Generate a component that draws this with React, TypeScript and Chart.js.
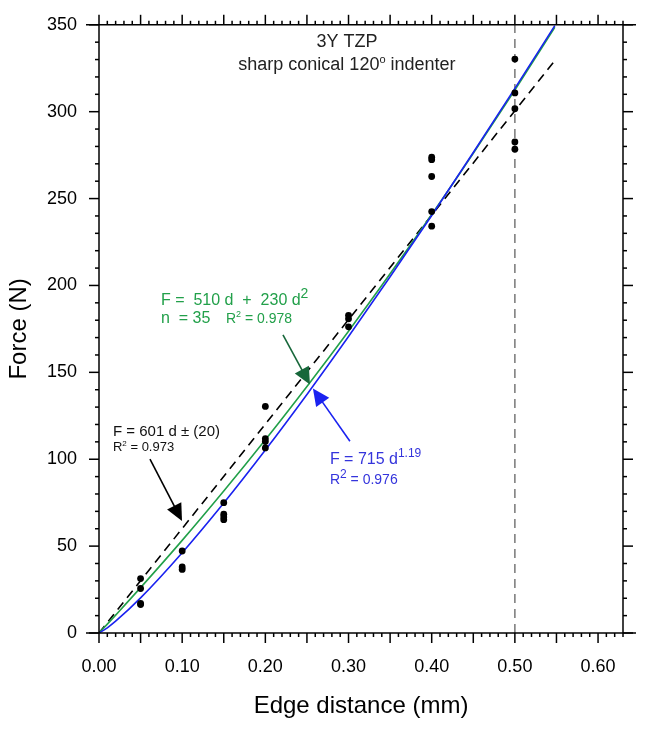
import React, { useEffect, useRef } from "react";
import { Chart, registerables } from "chart.js";

Chart.register(...registerables);

// Measured indentation data (edge distance in mm, force in N)
const edgeDistance = [
  0.05, 0.05, 0.05, 0.05,
  0.10, 0.10, 0.10,
  0.15, 0.15, 0.15, 0.15,
  0.20, 0.20, 0.20, 0.20,
  0.30, 0.30, 0.30,
  0.40, 0.40, 0.40, 0.40, 0.40,
  0.50, 0.50, 0.50, 0.50, 0.50,
];
const force = [
  31.3, 25.6, 17.0, 16.4,
  47.2, 38.0, 36.6,
  75.0, 68.4, 66.8, 65.2,
  130.4, 111.9, 110.2, 106.5,
  182.8, 180.8, 176.2,
  273.8, 272.4, 262.7, 242.5, 234.1,
  330.3, 310.8, 301.7, 282.6, 278.4,
];

// Fit curves
const fitDistance = [0, 0.01, 0.02, 0.05, 0.10, 0.15, 0.20, 0.25, 0.30, 0.35, 0.40, 0.45, 0.50, 0.548];
const quadraticFit = [0, 5.1, 10.3, 26.1, 53.3, 81.7, 111.2, 141.9, 173.7, 206.7, 240.8, 276.1, 312.5, 348.6];
const powerFit = [0, 3.0, 6.8, 20.2, 46.2, 74.8, 105.3, 137.3, 170.6, 205.0, 240.3, 276.5, 313.4, 349.5];
const linearDistance = [0, 0.55];
const linearFit = [0, 330.6];

// Reference line (max edge distance)
const refDistance = [0.5, 0.5];
const refForce = [0, 350];

// Axis ticks
const xMin = 0;
const xMax = 0.63;
const xStep = 0.1;
const yMin = 0;
const yMax = 350;
const yStep = 50;

const FONT = "'Liberation Sans', Arial, Helvetica, sans-serif";
const GREEN = "#22a04a";
const GREEN_DARK = "#17673a";
const BLUE = "#1a22f0";
const BLUE_TEXT = "#3434dc";

type Seg = { t: string; size: number; dy?: number };

function drawSegs(ctx: CanvasRenderingContext2D, segs: Seg[], x: number, y: number, color: string, align: "left" | "center" = "left") {
  ctx.save();
  ctx.fillStyle = color;
  ctx.textBaseline = "alphabetic";
  ctx.textAlign = "left";
  let total = 0;
  for (const s of segs) {
    ctx.font = `${s.size}px ${FONT}`;
    total += ctx.measureText(s.t).width;
  }
  let cx = align === "center" ? x - total / 2 : x;
  for (const s of segs) {
    ctx.font = `${s.size}px ${FONT}`;
    ctx.fillText(s.t, cx, y - (s.dy || 0));
    cx += ctx.measureText(s.t).width;
  }
  ctx.restore();
}

function drawArrow(ctx: CanvasRenderingContext2D, x1: number, y1: number, x2: number, y2: number, lineColor: string, headColor: string) {
  const ang = Math.atan2(y2 - y1, x2 - x1);
  const hl = 17;
  const hw = 8;
  ctx.save();
  ctx.strokeStyle = lineColor;
  ctx.lineWidth = 1.6;
  ctx.beginPath();
  ctx.moveTo(x1, y1);
  ctx.lineTo(x2 - Math.cos(ang) * hl * 0.8, y2 - Math.sin(ang) * hl * 0.8);
  ctx.stroke();
  ctx.fillStyle = headColor;
  ctx.beginPath();
  ctx.moveTo(x2, y2);
  const bx = x2 - Math.cos(ang) * hl;
  const by = y2 - Math.sin(ang) * hl;
  ctx.lineTo(bx + Math.sin(ang) * hw, by - Math.cos(ang) * hw);
  ctx.lineTo(bx - Math.sin(ang) * hw, by + Math.cos(ang) * hw);
  ctx.closePath();
  ctx.fill();
  ctx.restore();
}

const framePlugin = {
  id: "frame",
  afterDraw(chart: any) {
    const { ctx, chartArea, scales } = chart;
    const { left, right, top, bottom } = chartArea;
    const xs = scales.x;
    const ys = scales.y;
    ctx.save();
    ctx.strokeStyle = "#000";
    ctx.lineWidth = 1.5;
    const ln = (a: number, b: number, c: number, d: number) => {
      ctx.beginPath();
      ctx.moveTo(a, b);
      ctx.lineTo(c, d);
      ctx.stroke();
    };
    const ext = 13;
    ln(left - ext, top, right + ext, top);
    ln(left - ext, bottom, right + ext, bottom);
    ln(left, top, left, bottom);
    ln(right, top, right, bottom);
    const nx = Math.round((xMax - xMin) * 100);
    for (let i = 0; i <= nx; i++) {
      const px = xs.getPixelForValue(xMin + i / 100);
      const len = i % 5 === 0 ? 10 : 4;
      ln(px, bottom, px, bottom + len);
      ln(px, top, px, top - len);
    }
    for (let v = yMin; v <= yMax; v += 10) {
      const py = ys.getPixelForValue(v);
      const len = v % 50 === 0 ? 10 : 4;
      ln(left, py, left - len, py);
      ln(right, py, right + len, py);
    }
    ctx.restore();
  },
};

const notesPlugin = {
  id: "notes",
  afterDatasetsDraw(chart: any) {
    const { ctx, scales } = chart;
    const X = (v: number) => scales.x.getPixelForValue(v);
    const Y = (v: number) => scales.y.getPixelForValue(v);

    // Title inside plot
    drawSegs(ctx, [{ t: "3Y TZP", size: 18 }], X(0.2981), Y(337), "#222", "center");
    drawSegs(
      ctx,
      [
        { t: "sharp conical 120", size: 18 },
        { t: "o", size: 11, dy: 7 },
        { t: " indenter", size: 18 },
      ],
      X(0.2981),
      Y(324),
      "#222",
      "center"
    );

    // Quadratic fit (green)
    drawSegs(
      ctx,
      [
        { t: "F =  510 d  +  230 d", size: 16 },
        { t: "2", size: 14, dy: 7 },
      ],
      X(0.0745),
      Y(188.5),
      GREEN
    );
    drawSegs(ctx, [{ t: "n  = 35", size: 16 }], X(0.0745), Y(178.5), GREEN);
    drawSegs(
      ctx,
      [
        { t: "R", size: 14 },
        { t: "2", size: 9, dy: 6 },
        { t: " = 0.978", size: 14 },
      ],
      X(0.1526),
      Y(178.5),
      GREEN
    );
    drawArrow(ctx, X(0.2212), Y(171.6), X(0.2536), Y(143.0), GREEN_DARK, GREEN_DARK);

    // Power fit (blue)
    drawSegs(
      ctx,
      [
        { t: "F = 715 d", size: 16 },
        { t: "1.19", size: 12, dy: 7 },
      ],
      X(0.2776),
      Y(97.5),
      BLUE_TEXT
    );
    drawSegs(
      ctx,
      [
        { t: "R", size: 14 },
        { t: "2", size: 12, dy: 6 },
        { t: " = 0.976", size: 14 },
      ],
      X(0.2776),
      Y(85.5),
      BLUE_TEXT
    );
    drawArrow(ctx, X(0.3017), Y(110.3), X(0.2572), Y(140.7), BLUE, BLUE);

    // Linear fit (black)
    drawSegs(ctx, [{ t: "F = 601 d \u00b1 (20)", size: 15 }], X(0.0168), Y(113.5), "#111");
    drawSegs(
      ctx,
      [
        { t: "R", size: 13 },
        { t: "2", size: 8, dy: 5 },
        { t: " = 0.973", size: 13 },
      ],
      X(0.0168),
      Y(104.5),
      "#111"
    );
    drawArrow(ctx, X(0.0613), Y(100.1), X(0.0998), Y(64.5), "#000", "#000");
  },
};

export default function App() {
  const ref = useRef<HTMLCanvasElement | null>(null);

  useEffect(() => {
    if (!ref.current) return;
    const pts = edgeDistance.map((d, i) => ({ x: d, y: force[i] }));
    const quad = fitDistance.map((d, i) => ({ x: d, y: quadraticFit[i] }));
    const pow = fitDistance.map((d, i) => ({ x: d, y: powerFit[i] }));
    const lin = linearDistance.map((d, i) => ({ x: d, y: linearFit[i] }));
    const refl = refDistance.map((d, i) => ({ x: d, y: refForce[i] }));

    const chart = new Chart(ref.current, {
      type: "scatter",
      data: {
        datasets: [
          {
            label: "data",
            data: pts,
            backgroundColor: "#000",
            borderColor: "#000",
            pointRadius: 3.4,
            pointHoverRadius: 3.4,
            borderWidth: 0,
          },
          {
            label: "power",
            data: pow,
            showLine: true,
            borderColor: BLUE,
            borderWidth: 1.6,
            pointRadius: 0,
            cubicInterpolationMode: "monotone",
          },
          {
            label: "quadratic",
            data: quad,
            showLine: true,
            borderColor: GREEN,
            borderWidth: 1.6,
            pointRadius: 0,
            cubicInterpolationMode: "monotone",
          },
          {
            label: "linear",
            data: lin,
            showLine: true,
            borderColor: "#000",
            borderWidth: 1.6,
            borderDash: [9, 6],
            pointRadius: 0,
          },
          {
            label: "ref",
            data: refl,
            showLine: true,
            borderColor: "#777",
            borderWidth: 1.5,
            borderDash: [9, 6],
            pointRadius: 0,
          },
        ],
      },
      options: {
        responsive: false,
        animation: false,
        events: [],
        layout: { padding: { top: 22, right: 22, left: 0, bottom: 0 } },
        plugins: {
          legend: { display: false },
          tooltip: { enabled: false },
        },
        scales: {
          x: {
            type: "linear",
            min: xMin,
            max: xMax,
            grid: { display: false },
            border: { display: false },
            ticks: {
              stepSize: xStep,
              includeBounds: false,
              padding: 15,
              color: "#000",
              font: { family: FONT, size: 18 },
              callback: (v: any) => Number(v).toFixed(2),
              maxRotation: 0,
            },
            title: {
              display: true,
              text: "Edge distance (mm)",
              color: "#000",
              font: { family: FONT, size: 24 },
              padding: { top: 0, bottom: 12 },
            },
            afterFit: (s: any) => {
              s.height = 100;
            },
          },
          y: {
            type: "linear",
            min: yMin,
            max: yMax,
            grid: { display: false },
            border: { display: false },
            ticks: {
              stepSize: yStep,
              padding: 14,
              color: "#000",
              font: { family: FONT, size: 18 },
            },
            title: {
              display: true,
              text: "Force (N)",
              color: "#000",
              font: { family: FONT, size: 24 },
              padding: { top: 5, bottom: 0 },
            },
            afterFit: (s: any) => {
              s.width = 99;
            },
          },
        },
      },
      plugins: [framePlugin, notesPlugin],
    });
    return () => chart.destroy();
  }, []);

  return (
    <div style={{ position: "fixed", left: 0, top: 0, width: 645, height: 733, background: "#fff" }}>
      <canvas ref={ref} width={645} height={733} style={{ display: "block", width: 645, height: 733 }} />
    </div>
  );
}
